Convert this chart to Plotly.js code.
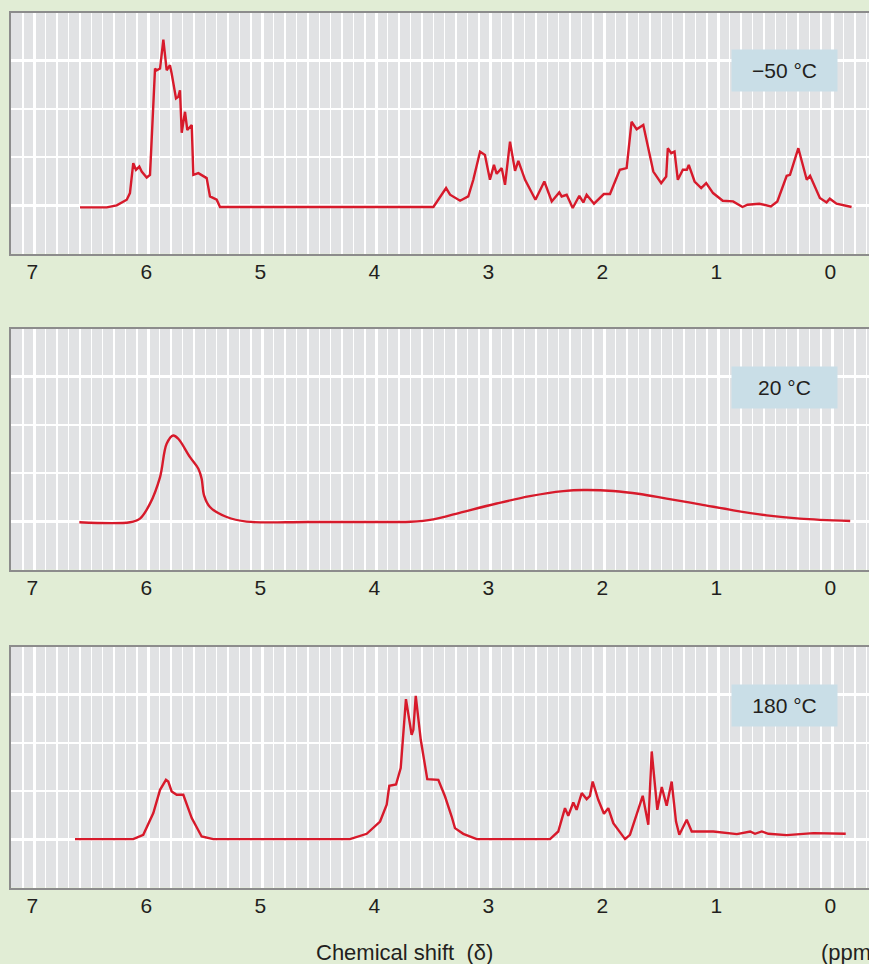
<!DOCTYPE html>
<html>
<head>
<meta charset="utf-8">
<script src="https://cdn.plot.ly/plotly-3.0.1.min.js"></script>
<style>
html,body{margin:0;padding:0;background:#e1edd5;overflow:hidden;}
#chart{width:869px;height:964px;}
</style>
</head>
<body>
<div id="chart"></div>
<script>
// ---- Data (chemical shift in ppm, signal intensity in grid units) ----
const ppmM50 = [6.599,6.365,6.277,6.189,6.161,6.132,6.108,6.079,6.058,6.014,5.985,5.941,5.926,5.897,5.868,5.839,5.810,5.795,5.757,5.737,5.722,5.707,5.678,5.658,5.619,5.605,5.561,5.532,5.488,5.459,5.400,5.371,
  3.499,3.388,3.353,3.265,3.193,3.149,3.090,3.047,3.003,2.968,2.944,2.900,2.871,2.827,2.783,2.754,2.695,2.604,2.526,2.461,2.395,2.374,2.330,2.277,2.219,2.184,2.155,2.090,2.004,1.950,1.864,1.804,1.761,1.716,1.658,1.570,1.501,1.457,1.443,1.413,1.384,1.355,1.311,1.276,1.259,1.208,1.150,1.106,1.046,0.961,0.870,0.788,0.744,0.641,0.539,0.482,0.400,0.371,0.298,0.224,0.195,0.109,0.050,0.022,-0.037,-0.169];
const intM50 = [0.957,0.957,0.998,1.116,1.254,1.874,1.736,1.804,1.700,1.576,1.632,3.837,3.802,3.837,4.436,3.802,3.905,3.733,3.217,3.250,3.388,2.506,2.940,2.562,2.665,1.632,1.667,1.632,1.564,1.184,1.116,0.965,
  0.965,1.357,1.219,1.095,1.184,1.529,2.114,2.045,1.529,1.839,1.653,1.771,1.426,2.320,1.715,1.921,1.529,1.116,1.494,1.081,1.267,1.184,1.219,0.944,1.198,1.060,1.219,1.033,1.233,1.233,1.736,1.771,2.733,2.576,2.665,1.700,1.461,1.597,2.184,2.081,2.114,1.529,1.736,1.736,1.839,1.494,1.357,1.461,1.254,1.095,1.081,0.965,1.012,1.033,0.978,1.081,1.612,1.632,2.184,1.529,1.612,1.151,1.060,1.136,1.033,0.965];

const ppm20 = [6.605,6.161,6.073,5.985,5.897,5.839,5.781,5.737,5.634,5.561,5.532,5.511,5.459,5.312,5.137,4.600,3.900,3.700,3.500,3.237,2.944,2.652,2.360,2.184,1.921,1.687,1.453,1.161,0.868,0.576,0.285,-0.157];
const int20 = [0.98,0.98,1.056,1.366,1.917,2.609,2.781,2.712,2.331,2.091,1.884,1.538,1.296,1.089,0.994,0.986,0.986,0.99,1.039,1.197,1.369,1.521,1.625,1.649,1.629,1.566,1.470,1.352,1.228,1.124,1.056,1.006];

const ppm180 = [6.643,6.132,6.044,5.956,5.897,5.845,5.825,5.795,5.751,5.693,5.619,5.532,5.430,
  4.231,4.084,3.967,3.909,3.886,3.827,3.786,3.740,3.690,3.675,3.654,3.610,3.553,3.456,3.397,3.339,3.310,3.237,3.119,
  2.476,2.404,2.345,2.316,2.272,2.243,2.198,2.155,2.126,2.102,2.053,2.003,1.965,1.921,1.818,1.775,1.663,1.614,1.584,1.535,1.496,1.453,1.409,1.371,1.342,1.277,1.233,1.044,0.837,0.720,0.678,0.619,0.561,0.400,0.166,-0.118];
const int180 = [1.004,1.004,1.093,1.544,2.027,2.234,2.199,1.992,1.923,1.923,1.440,1.058,1.004,
  1.004,1.114,1.369,1.716,2.110,2.137,2.477,3.909,3.168,3.272,3.977,3.064,2.249,2.234,1.888,1.473,1.232,1.114,1.004,
  1.004,1.162,1.647,1.488,1.763,1.612,1.959,1.834,1.902,2.199,1.820,1.529,1.647,1.336,1.004,1.093,1.902,1.301,2.822,1.612,2.083,1.695,2.199,1.369,1.093,1.405,1.162,1.162,1.107,1.162,1.114,1.162,1.114,1.087,1.129,1.114];

const tickVals = [7,6,5,4,3,2,1,0];
const tickText = ["7","6","5","4","3","2","1","0"];
const panelLabels = ["\u221250 \u00b0C","20 \u00b0C","180 \u00b0C"];
const xTitle = "Chemical shift  (\u03b4)";
const unitText = "(ppm)";

// ---- Styling ----
const RED = "#d71a2b";
const W = 869, H = 964;
const FONT = "Liberation Sans, Arial, Helvetica, sans-serif";
const panels = [{top:12.5,bottom:253.5},{top:328.5,bottom:569.5},{top:646.5,bottom:887.5}];
const boxCenters = [70.5,387.5,705.5];

const traces = [
  {x:ppmM50,y:intM50,xaxis:"x",yaxis:"y",mode:"lines",line:{color:RED,width:2.4,shape:"linear"},hoverinfo:"skip"},
  {x:ppm20,y:int20,xaxis:"x2",yaxis:"y2",mode:"lines",line:{color:RED,width:2.4,shape:"spline",smoothing:1},hoverinfo:"skip"},
  {x:ppm180,y:int180,xaxis:"x3",yaxis:"y3",mode:"lines",line:{color:RED,width:2.4,shape:"linear"},hoverinfo:"skip"}
];

const xLeft = 11, xRightPx = W;
const ppmAt = px => 7 - (px - 34.3)/114;

function xAxis(anchor){
  return {
    anchor:anchor, domain:[xLeft/W,1], range:[ppmAt(xLeft), ppmAt(xRightPx)],
    tickvals:tickVals, ticktext:tickText, ticks:"", ticklabelstandoff:-2, ticklabelshift:2,
    showgrid:true, gridcolor:"#ffffff", gridwidth:2.6,
    minor:{dtick:0.1, tick0:0, showgrid:true, gridcolor:"#ffffff", gridwidth:1.3, ticks:""},
    showline:true, mirror:true, linecolor:"#8c8c8c", linewidth:2,
    zeroline:false, tickfont:{family:FONT,size:21,color:"#231f20"}, fixedrange:true
  };
}
function yAxis(anchor, p){
  return {
    anchor:anchor, domain:[1-p.bottom/H, 1-p.top/H], range:[0,5],
    dtick:1, tick0:0, showticklabels:false, ticks:"",
    showgrid:true, gridcolor:"#ffffff", gridwidth:2.6,
    showline:true, mirror:false, linecolor:"#8c8c8c", linewidth:2,
    zeroline:false, fixedrange:true
  };
}

const annotations = panelLabels.map((t,i)=>({
  text:t, xref:"paper", yref:"paper", x:784/W, y:1-boxCenters[i]/H,
  xanchor:"center", yanchor:"middle", showarrow:false,
  bgcolor:"#c9dee7", width:105, height:41, borderpad:0,
  font:{family:FONT,size:21,color:"#231f20"}
}));
annotations.push({text:xTitle, xref:"paper", yref:"paper", x:404/W, y:1-952/H,
  xanchor:"center", yanchor:"middle", showarrow:false, font:{family:FONT,size:22,color:"#231f20"}});
annotations.push({text:unitText, xref:"paper", yref:"paper", x:819/W, y:1-952/H,
  xanchor:"left", yanchor:"middle", showarrow:false, font:{family:FONT,size:22,color:"#231f20"}});

const layout = {
  width:W, height:H, margin:{l:0,r:0,t:0,b:0},
  paper_bgcolor:"#e1edd5", plot_bgcolor:"#e1e2e4",
  showlegend:false,
  xaxis:xAxis("y"), yaxis:yAxis("x",panels[0]),
  xaxis2:xAxis("y2"), yaxis2:yAxis("x2",panels[1]),
  xaxis3:xAxis("y3"), yaxis3:yAxis("x3",panels[2]),
  annotations:annotations
};

Plotly.newPlot("chart", traces, layout, {staticPlot:true, displayModeBar:false});
</script>
</body>
</html>
